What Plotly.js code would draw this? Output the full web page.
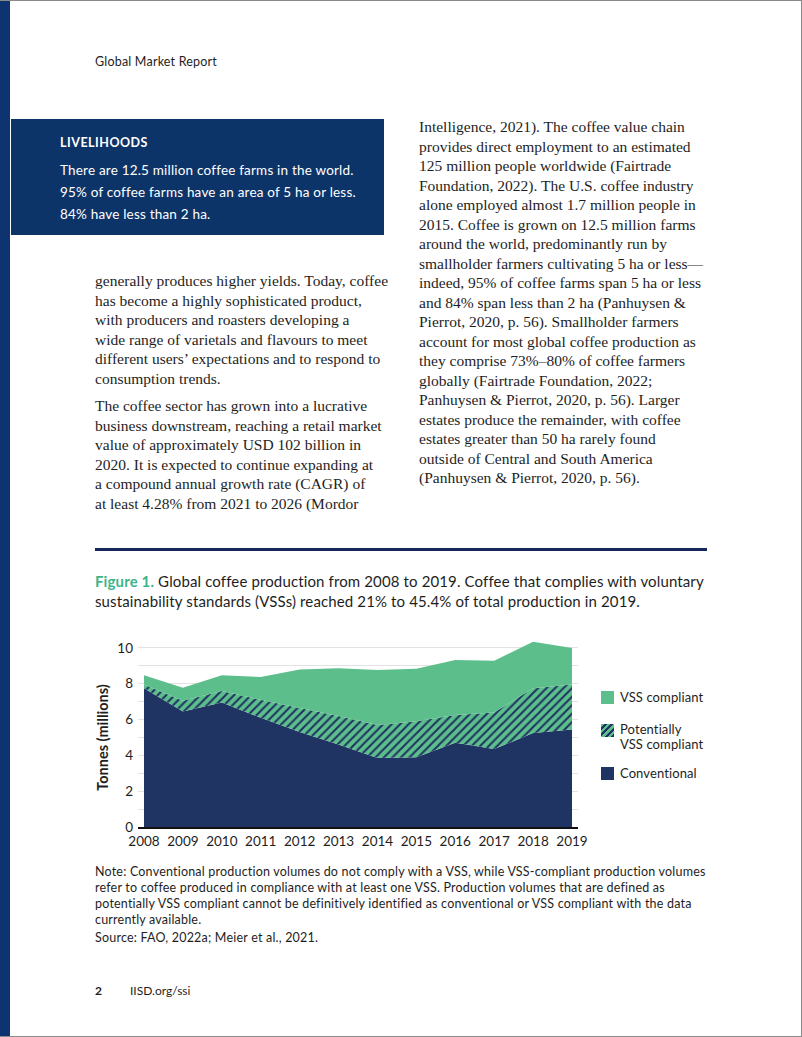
<!DOCTYPE html>
<html>
<head>
<meta charset="utf-8">
<script src="https://cdn.plot.ly/plotly-3.0.1.min.js"></script>
<style>
  html, body { margin:0; padding:0; background:#fff; }
  #page { position:relative; width:802px; height:1037px; overflow:hidden; background:#fff;
          box-sizing:border-box; border-top:1px solid #8a8a8a; border-right:1px solid #8a8a8a; border-bottom:1px solid #8a8a8a; }
  .sans { font-family: Lato, "Noto Sans", sans-serif; color:#1e1e1e; }
  .serif { font-family: "Liberation Serif", "DejaVu Serif", serif; color:#1e1e1e; font-size:15.5px; line-height:19.5px; white-space:nowrap; }
  .abs { position:absolute; }
  #bar { left:0; top:0; width:10px; height:1037px; background:#0d3470; }
  #box { left:11px; top:118px; width:373px; height:116px; background:#0d3469; }
  #rule { left:95px; top:547px; width:612px; height:3px; background:#14295a; }
  .leg { position:absolute; font-family: Lato, "Noto Sans", sans-serif; font-size:13px; color:#1e1e1e; line-height:15px; letter-spacing:0.1px; }
  .sw { position:absolute; width:13px; height:13px; }
</style>
</head>
<body>
<div id="page">
  <div id="bar" class="abs"></div>
  <div class="abs sans" style="left:95px; top:53px; font-size:12.5px; letter-spacing:0.2px; line-height:16px;">Global Market Report</div>

  <div id="box" class="abs"></div>
  <div class="abs sans" style="left:60px; top:134px; font-size:12.5px; font-weight:bold; color:#fff; letter-spacing:0.5px; line-height:16px;">LIVELIHOODS</div>
  <div class="abs sans" style="left:60px; top:158px; font-size:13.5px; letter-spacing:0.2px; color:#fff; line-height:22px; white-space:nowrap;">There are 12.5 million coffee farms in the world.<br>95% of coffee farms have an area of 5 ha or less.<br>84% have less than 2 ha.</div>

  <div class="abs serif" style="left:95px; top:270px;">generally produces higher yields. Today, coffee<br>has become a highly sophisticated product,<br>with producers and roasters developing a<br>wide range of varietals and flavours to meet<br>different users’ expectations and to respond to<br>consumption trends.</div>
  <div class="abs serif" style="left:95px; top:395px;">The coffee sector has grown into a lucrative<br>business downstream, reaching a retail market<br>value of approximately USD 102 billion in<br>2020. It is expected to continue expanding at<br>a compound annual growth rate (CAGR) of<br>at least 4.28% from 2021 to 2026 (Mordor</div>

  <div class="abs serif" style="left:419px; top:116px;">Intelligence, 2021). The coffee value chain<br>provides direct employment to an estimated<br>125 million people worldwide (Fairtrade<br>Foundation, 2022). The U.S. coffee industry<br>alone employed almost 1.7 million people in<br>2015. Coffee is grown on 12.5 million farms<br>around the world, predominantly run by<br>smallholder farmers cultivating 5 ha or less—<br>indeed, 95% of coffee farms span 5 ha or less<br>and 84% span less than 2 ha (Panhuysen &amp;<br>Pierrot, 2020, p. 56). Smallholder farmers<br>account for most global coffee production as<br>they comprise 73%–80% of coffee farmers<br>globally (Fairtrade Foundation, 2022;<br>Panhuysen &amp; Pierrot, 2020, p. 56). Larger<br>estates produce the remainder, with coffee<br>estates greater than 50 ha rarely found<br>outside of Central and South America<br>(Panhuysen &amp; Pierrot, 2020, p. 56).</div>

  <div id="rule" class="abs"></div>

  <div class="abs sans" style="left:95px; top:570px; font-size:15px; letter-spacing:0.13px; line-height:20px; white-space:nowrap;"><span style="color:#3db58a; font-weight:bold;">Figure 1.</span> Global coffee production from 2008 to 2019. Coffee that complies with voluntary<br>sustainability standards (VSSs) reached 21% to 45.4% of total production in 2019.</div>

  <div id="chart" class="abs" style="left:0; top:610px; width:802px; height:250px;"></div>

  <div class="sw" style="left:601px; top:690px; background:#5cbf8b;"></div>
  <div class="leg" style="left:620px; top:689px;">VSS compliant</div>
  <div class="sw" style="left:601px; top:723px; background:repeating-linear-gradient(135deg, #5cbf8b 0px, #5cbf8b 2.5px, #1f3462 2.5px, #1f3462 4.5px);"></div>
  <div class="leg" style="left:620px; top:721px;">Potentially<br>VSS compliant</div>
  <div class="sw" style="left:601px; top:766px; background:#1f3462;"></div>
  <div class="leg" style="left:620px; top:765px;">Conventional</div>

  <div class="abs sans" style="left:95px; top:863px; font-size:12.5px; letter-spacing:0.2px; line-height:16px; white-space:nowrap;">Note: Conventional production volumes do not comply with a VSS, while VSS-compliant production volumes<br>refer to coffee produced in compliance with at least one VSS. Production volumes that are defined as<br>potentially VSS compliant cannot be definitively identified as conventional or VSS compliant with the data<br>currently available.</div>
  <div class="abs sans" style="left:95px; top:929px; font-size:12.5px; letter-spacing:0.2px; line-height:16px; white-space:nowrap;">Source: FAO, 2022a; Meier et al., 2021.</div>

  <div class="abs sans" style="left:95px; top:982px; font-size:12px; font-weight:bold; line-height:16px;">2</div>
  <div class="abs sans" style="left:130px; top:982px; font-size:12px; line-height:16px;">IISD.org/ssi</div>
</div>

<script>
// Data (million tonnes)
const years = [2008, 2009, 2010, 2011, 2012, 2013, 2014, 2015, 2016, 2017, 2018, 2019];
const conventional = [7.75, 6.45, 6.95, 6.10, 5.30, 4.60, 3.85, 3.90, 4.70, 4.35, 5.25, 5.45];
const potentiallyVSS = [0.20, 0.60, 0.65, 1.00, 1.35, 1.60, 1.85, 2.00, 1.55, 2.05, 2.50, 2.50];
const vssCompliant = [0.53, 0.73, 0.87, 1.28, 2.15, 2.67, 3.06, 2.94, 3.08, 2.88, 2.60, 2.05];
const yTickVals = [0, 1, 2, 3, 4, 5, 6, 7, 8, 9, 10, 11];
const yTickText = ['0', '', '2', '', '4', '', '6', '', '8', '', '10', ''];
const xTickVals = years;

const navy = '#1f3462';
const green = '#5cbf8b';

const traces = [
  { x: years, y: conventional, name: 'Conventional', type: 'scatter', mode: 'lines',
    stackgroup: 'one', line: { width: 0, color: navy }, fillcolor: navy, showlegend: false, hoverinfo: 'skip' },
  { x: years, y: potentiallyVSS, name: 'Potentially VSS compliant', type: 'scatter', mode: 'lines',
    stackgroup: 'one', line: { width: 0, color: green }, fillcolor: green,
    fillpattern: { shape: '/', fgcolor: navy, bgcolor: green, size: 6, solidity: 0.35 },
    showlegend: false, hoverinfo: 'skip' },
  { x: years, y: vssCompliant, name: 'VSS compliant', type: 'scatter', mode: 'lines',
    stackgroup: 'one', line: { width: 0, color: green }, fillcolor: green, showlegend: false, hoverinfo: 'skip' }
];

const layout = {
  width: 802, height: 250,
  margin: { l: 138, r: 224, t: 19, b: 34 },
  paper_bgcolor: 'rgba(0,0,0,0)', plot_bgcolor: 'rgba(0,0,0,0)',
  font: { family: 'Lato, "Noto Sans", sans-serif', color: '#1e1e1e', size: 13.5 },
  showlegend: false,
  xaxis: {
    range: [2007.846, 2019.154], tickvals: xTickVals, ticks: '', showgrid: false,
    showline: true, linecolor: '#111', linewidth: 2, zeroline: false, fixedrange: true,
    tickfont: { size: 13.5 }, ticklabelstandoff: 1
  },
  yaxis: {
    range: [0, 11], tickvals: yTickVals, ticktext: yTickText, ticks: '',
    showgrid: true, gridcolor: '#e2e2e2', gridwidth: 1, zeroline: false, showline: false,
    fixedrange: true, tickfont: { size: 13.5 }, ticklabelstandoff: 4
  },
  annotations: [{
    text: '<b>Tonnes (millions)</b>', xref: 'paper', yref: 'paper', x: -0.08, y: 0.452,
    xanchor: 'center', yanchor: 'middle',
    textangle: -90, showarrow: false, font: { size: 14.5, color: '#1e1e1e' }
  }]
};

Plotly.newPlot('chart', traces, layout, { displayModeBar: false, staticPlot: true });
</script>
</body>
</html>
